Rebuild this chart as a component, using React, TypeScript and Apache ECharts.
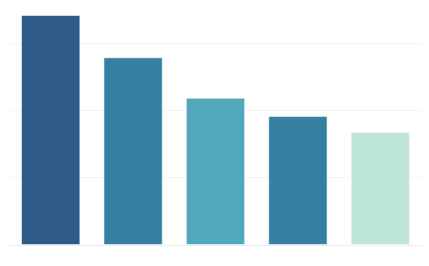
import React, { useEffect, useRef } from "react";
import * as echarts from "echarts";

const categories = ["A", "B", "C", "D", "E"];
const values = [342, 279, 219, 192, 168];
const colors = ["#2d5a86", "#367fa1", "#53a8bd", "#3680a1", "#bee5d9"];

export default function App() {
  const ref = useRef<HTMLDivElement>(null);
  useEffect(() => {
    if (!ref.current) return;
    const chart = echarts.init(ref.current, null, { renderer: "svg" });
    chart.setOption({
      animation: false,
      grid: { left: 9.5, right: 7.5, top: 15, bottom: 21, containLabel: false },
      xAxis: {
        type: "category",
        data: categories,
        axisLine: { show: true, lineStyle: { color: "#ececec", width: 1 } },
        axisTick: { show: false },
        axisLabel: { show: false },
      },
      yAxis: {
        type: "value",
        min: 0,
        max: 342,
        interval: 100,
        axisLine: { show: false },
        axisTick: { show: false },
        axisLabel: { show: false },
        splitLine: { show: true, showMaxLine: false, lineStyle: { color: "#f3f3f3", width: 1 } },
      },
      series: [
        {
          type: "bar",
          barCategoryGap: "28%",
          data: values.map((v, i) => ({
            value: v,
            itemStyle: {
              color: colors[i],
              borderColor: "rgba(255,255,255,0.55)",
              borderWidth: 1,
            },
          })),
        },
      ],
    });
    return () => chart.dispose();
  }, []);
  return (
    <div
      ref={ref}
      style={{ position: "fixed", left: 0, top: 0, width: 429, height: 266, background: "#fff" }}
    />
  );
}
